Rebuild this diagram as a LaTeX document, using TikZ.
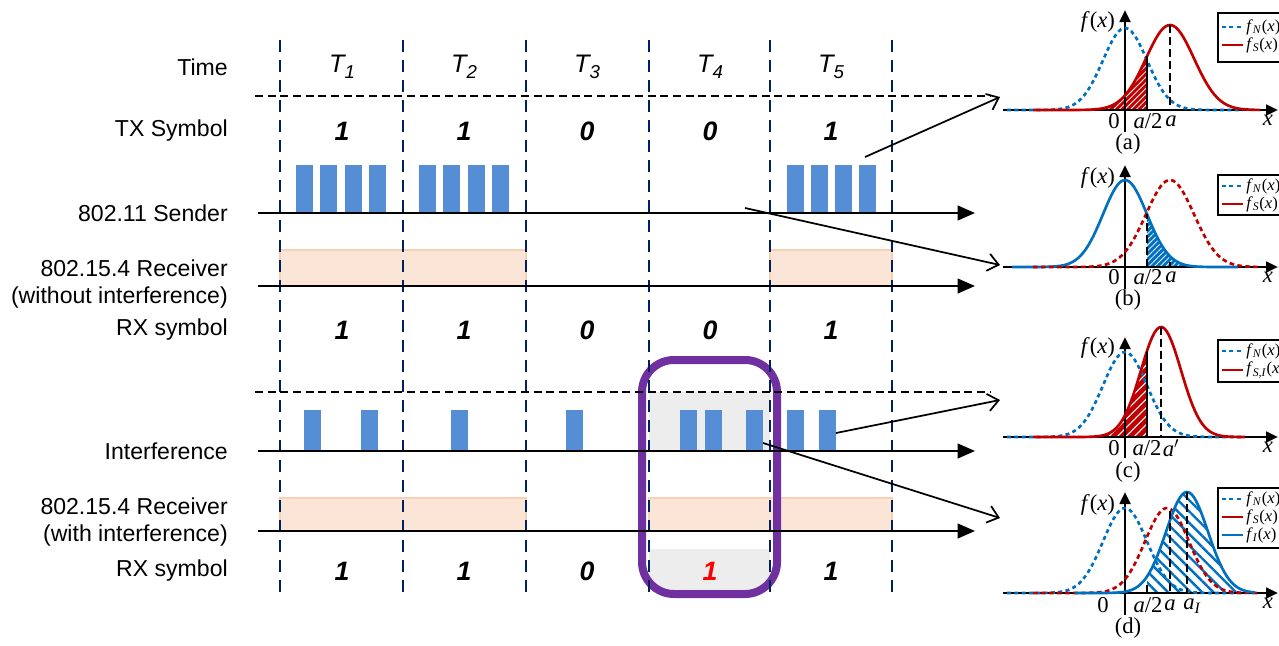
\documentclass[tikz,border=0pt]{standalone}
\usepackage{fontspec}
\setmainfont{Liberation Sans}
\newfontfamily\serif{Liberation Serif}
\usetikzlibrary{arrows.meta,patterns,patterns.meta}
\definecolor{barblue}{RGB}{85,142,213}
\definecolor{cblue}{RGB}{0,112,192}
\definecolor{cred}{RGB}{192,0,0}
\definecolor{peach}{RGB}{251,229,214}
\definecolor{peachb}{RGB}{248,208,180}
\definecolor{navy}{RGB}{0,32,96}
\definecolor{purp}{RGB}{112,48,160}
\definecolor{lgray}{RGB}{237,237,237}
\begin{document}
\begin{tikzpicture}[x=0.75pt,y=-0.75pt,
 declare function={g(\t,\m,\s,\h)=\h*exp(-0.5*((\t-\m)/\s)*((\t-\m)/\s));},
 lbl/.style={anchor=east,inner sep=0pt,font=\fontsize{17.3}{20}\selectfont,align=right},
 tl/.style={font=\fontsize{19}{20}\selectfont\itshape},
 sym/.style={font=\fontsize{20}{22}\selectfont\bfseries\itshape},
 vdash/.style={navy,line width=1.5pt,dash pattern=on 9pt off 6pt},
 hdash/.style={black,line width=1.5pt,dash pattern=on 6pt off 3.5pt},
 axis/.style={black,line width=1.5pt,-{Triangle[length=13pt,width=11pt]}},
 sbar/.style={fill=barblue},
 pbox/.style={fill=peach,draw=peachb,line width=0.8pt},
 ptr/.style={black,line width=1.3pt,-{Straight Barb[length=8pt,width=13pt,line width=1.3pt]}},
 pax/.style={black,line width=2pt,-{Triangle[length=9pt,width=8pt]}},
 cNd/.style={cblue,line width=2pt,dash pattern=on 3pt off 2.5pt},
 cNs/.style={cblue,line width=2pt},
 cSs/.style={cred,line width=2pt},
 cSd/.style={cred,line width=2pt,dash pattern=on 3.5pt off 2.5pt},
 vl/.style={black,line width=1.6pt,dash pattern=on 6pt off 3pt},
 pl/.style={font=\serif\fontsize{17}{19}\selectfont,inner sep=0pt},
 lg/.style={font=\serif\fontsize{12.5}{14}\selectfont,anchor=west,inner sep=0pt},
 lgbox/.style={draw=black,line width=1.6pt,fill=white}
]
\useasboundingbox (0,0) rectangle (1279,646);

% gray highlight
\fill[lgray] (649,392) rectangle (770,451);
\fill[lgray] (649,549) rectangle (770,590);

% peach receiver windows
\filldraw[pbox] (280,250) rectangle (526,286);
\filldraw[pbox] (770,250) rectangle (892,286);
\filldraw[pbox] (280,498) rectangle (526,531);
\filldraw[pbox] (649,498) rectangle (892,531);

% sender bars
\foreach \x in {296,320,345,369,419,443,468,492,787,811,835,859}
  \fill[sbar] (\x,165) rectangle (\x+17,213);
% interference bars
\foreach \x in {304,361,451,566,680,705,746,787,819}
  \fill[sbar] (\x,410) rectangle (\x+17,451);

% purple box
\draw[purp,line width=6pt,rounded corners=24pt] (642,360) rectangle (777,594);

% vertical dashed lines
\foreach \x in {280,403,526,649,770,892}
  \draw[vdash] (\x,40) -- (\x,592);
% horizontal dashed lines
\draw[hdash] (255,96) -- (990,96);
\draw[hdash] (255,392) -- (990,392);

% axes
\coordinate (s0) at (258,213); \coordinate (s1) at (975,213);
\coordinate (r0) at (258,286); \coordinate (r1) at (975,286);
\coordinate (i0) at (258,451); \coordinate (i1) at (975,451);
\coordinate (w0) at (258,531); \coordinate (w1) at (975,531);
\draw[axis] (s0) -- (s1);
\draw[axis] (r0) -- (r1);
\draw[axis] (i0) -- (i1);
\draw[axis] (w0) -- (w1);

% left labels
\node[lbl] (lTime) at (228,67) {Time};
\node[lbl] (lTX) at (228,131) {TX Symbol};
\node[lbl] (lSend) at (228,213) {802.11 Sender};
\node[lbl] (lRx1) at (228,284) {802.15.4 Receiver\\(without interference)};
\node[lbl] (lRX1) at (228,330) {RX symbol};
\node[lbl] (lInt) at (228,451) {Interference};
\node[lbl] (lRx2) at (228,522) {802.15.4 Receiver\\(with interference)};
\node[lbl] (lRX2) at (228,571) {RX symbol};

% column headers
\foreach \i/\x in {1/342,2/464,3/587,4/710,5/831}
  \node[tl] (T\i) at (\x,67) {T\raisebox{-0.45ex}{\fontsize{14}{15}\selectfont\i}};

% symbols
\foreach \v/\x [count=\k] in {1/342,1/464,0/587,0/710,1/831}{
  \node[sym] (tx\k) at (\x,131) {\v};
  \node[sym] (rxa\k) at (\x,330) {\v};
}
\foreach \v/\x [count=\k] in {1/342,1/464,0/587,1/831}
  \node[sym] (rxb\k) at (\x,571) {\v};
\node[sym,text={rgb,255:red,255;green,0;blue,0}] (rxb4) at (710,571) {1};

% pointer arrows
\coordinate (pa0) at (865,157); \coordinate (pa1) at (1000,97);
\coordinate (pb0) at (745,208); \coordinate (pb1) at (1000,265);
\coordinate (pc0) at (836,433); \coordinate (pc1) at (1000,400);
\coordinate (pd0) at (763,443); \coordinate (pd1) at (1000,518);
\draw[ptr] (pa0) -- (pa1);
\draw[ptr] (pb0) -- (pb1);
\draw[ptr] (pc0) -- (pc1);
\draw[ptr] (pd0) -- (pd1);

% ---------- plot (a)
\begin{scope}[shift={(1125,110)}]
 \fill[cred] plot[domain=-92:22,samples=60] (\x,{-g(\x,45,24,85)}) -- (22,0) -- cycle;
 \fill[pattern={Lines[angle=45,distance=3pt,line width=0.6pt]},pattern color=white]
   plot[domain=-92:22,samples=60] (\x,{-g(\x,45,24,85)}) -- (22,0) -- cycle;
 \draw[pax] (-122,0) -- (153,0);
 \draw[pax] (0,22) -- (0,-100);
 \draw[cNd] plot[domain=-118:118,samples=90] (\x,{-g(\x,0,22,82)});
 \draw[cSs] plot[domain=-92:135,samples=90] (\x,{-g(\x,45,24,85)});
 \draw[vl] (45,-85) -- (45,0);
 \draw[black,line width=2pt] (22,0) -- (22,{-g(22,45,24,85)});
 \node[pl] (fa) at (-27,-88) {\textit{f}(\textit{x})};
 \node[pl] (za) at (-11,11) {0};
 \node[pl] (ha) at (23,11) {\textit{a}/2};
 \node[pl] (aa) at (46,11) {\textit{a}};
 \node[pl] (xa) at (143,10) {\textit{x}};
 \node[pl] (cap a) at (3,34) {(a)};
\end{scope}
\draw[lgbox] (1218,13) rectangle (1300,62);
\draw[cNd] (1222,27) -- (1243,27); \node[lg] (lga1) at (1246,27) {\textit{f}\textsubscript{\textit{N}}(\textit{x})};
\draw[cSs] (1222,45) -- (1243,45); \node[lg] (lga2) at (1246,45) {\textit{f}\textsubscript{\textit{S}}(\textit{x})};

% ---------- plot (b)
\begin{scope}[shift={(1125,267)}]
 \fill[cblue] plot[domain=22:112,samples=60] (\x,{-g(\x,0,22,87)}) -- (112,0) -- (22,0) -- cycle;
 \fill[pattern={Lines[angle=45,distance=3pt,line width=0.6pt]},pattern color=white]
   plot[domain=22:112,samples=60] (\x,{-g(\x,0,22,87)}) -- (112,0) -- (22,0) -- cycle;
 \draw[pax] (-122,0) -- (153,0);
 \draw[pax] (0,22) -- (0,-102);
 \draw[cNs] plot[domain=-113:113,samples=90] (\x,{-g(\x,0,22,87)});
 \draw[cSd] plot[domain=-92:135,samples=90] (\x,{-g(\x,45,24,87)});
 \draw[vl] (22,0) -- (22,{-g(22,0,22,87)});
 \draw[black,line width=2pt] (45,0) -- (45,-5);
 \node[pl] (fb) at (-27,-89) {\textit{f}(\textit{x})};
 \node[pl] (zb) at (-11,10) {0};
 \node[pl] (hb) at (23,10) {\textit{a}/2};
 \node[pl] (ab) at (46,10) {\textit{a}};
 \node[pl] (xb) at (143,10) {\textit{x}};
 \node[pl] (cap b) at (3,33) {(b)};
\end{scope}
\draw[lgbox] (1218,175) rectangle (1300,215);
\draw[cNd] (1222,186) -- (1243,186); \node[lg] (lgb1) at (1246,186) {\textit{f}\textsubscript{\textit{N}}(\textit{x})};
\draw[cSs] (1222,204) -- (1243,204); \node[lg] (lgb2) at (1246,204) {\textit{f}\textsubscript{\textit{S}}(\textit{x})};

% ---------- plot (c)
\begin{scope}[shift={(1125,437)}]
 \fill[cred] plot[domain=-92:22,samples=60] (\x,{-g(\x,36,20,110)}) -- (22,0) -- cycle;
 \fill[pattern={Lines[angle=45,distance=4.5pt,line width=0.8pt]},pattern color=white]
   plot[domain=-92:22,samples=60] (\x,{-g(\x,36,20,110)}) -- (22,0) -- cycle;
 \draw[pax] (-122,0) -- (153,0);
 \draw[pax] (0,21) -- (0,-100);
 \draw[cNd] plot[domain=-118:118,samples=90] (\x,{-g(\x,0,22,85)});
 \draw[cSs] plot[domain=-92:120,samples=90] (\x,{-g(\x,36,20,110)});
 \draw[vl] (36,-110) -- (36,0);
 \draw[black,line width=2pt] (22,0) -- (22,{-g(22,36,20,110)});
 \node[pl] (fc) at (-27,-89) {\textit{f}(\textit{x})};
 \node[pl] (zc) at (-11,11) {0};
 \node[pl] (hc) at (22,11) {\textit{a}/2};
 \node[pl] (ac) at (46,11) {\textit{a}$'$};
 \node[pl] (xc) at (143,10) {\textit{x}};
 \node[pl] (cap c) at (3,35) {(c)};
\end{scope}
\draw[lgbox] (1218,340) rectangle (1300,382);
\draw[cNd] (1222,351) -- (1243,351); \node[lg] (lgc1) at (1246,351) {\textit{f}\textsubscript{\textit{N}}(\textit{x})};
\draw[cSs] (1222,370) -- (1243,370); \node[lg] (lgc2) at (1246,370) {\textit{f}\textsubscript{\textit{S,I}}(\textit{x})};

% ---------- plot (d)
\begin{scope}[shift={(1125,593)}]
 \fill[pattern={Lines[angle=-45,distance=6pt,line width=1.8pt]},pattern color=cblue]
   plot[domain=22:120,samples=60] (\x,{-g(\x,62,21,101)}) -- (120,0) -- (22,0) -- cycle;
 \draw[pax] (-122,0) -- (153,0);
 \draw[pax] (0,22) -- (0,-101);
 \draw[cNd] plot[domain=-118:118,samples=90] (\x,{-g(\x,0,22,85)});
 \draw[cSd] plot[domain=-92:135,samples=90] (\x,{-g(\x,42,22,85)});
 \draw[cNs] plot[domain=-50:130,samples=90] (\x,{-g(\x,62,21,101)});
 \draw[vl] (22,0) -- (22,-10);
 \draw[vl] (45,-82) -- (45,0);
 \draw[vl] (62,-101) -- (62,0);
 \node[pl] (fd) at (-27,-88) {\textit{f}(\textit{x})};
 \node[pl] (zd) at (-22,12) {0};
 \node[pl] (hd) at (23,12) {\textit{a}/2};
 \node[pl] (ad) at (45,12) {\textit{a}};
 \node[pl] (aId) at (67,13) {\textit{a\textsubscript{I}}};
 \node[pl] (xd) at (143,10) {\textit{x}};
 \node[pl] (cap d) at (3,35) {(d)};
\end{scope}
\draw[lgbox] (1218,488) rectangle (1300,548);
\draw[cNd] (1222,499) -- (1243,499); \node[lg] (lgd1) at (1246,499) {\textit{f}\textsubscript{\textit{N}}(\textit{x})};
\draw[cSs] (1222,517) -- (1243,517); \node[lg] (lgd2) at (1246,517) {\textit{f}\textsubscript{\textit{S}}(\textit{x})};
\draw[cNs] (1222,535) -- (1243,535); \node[lg] (lgd3) at (1246,535) {\textit{f}\textsubscript{\textit{I}}(\textit{x})};
\end{tikzpicture}
\end{document}
